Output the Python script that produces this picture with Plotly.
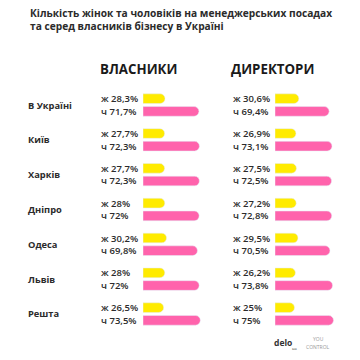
import plotly.graph_objects as go

cities = ["В Україні", "Київ", "Харків", "Дніпро", "Одеса", "Львів", "Решта"]
owners_women = [28.3, 27.7, 27.7, 28, 30.2, 28, 26.5]
owners_men = [71.7, 72.3, 72.3, 72, 69.8, 72, 73.5]
directors_women = [30.6, 26.9, 27.5, 27.2, 29.5, 26.2, 25]
directors_men = [69.4, 73.1, 72.5, 72.8, 70.5, 73.8, 75]

title_lines = ["Кількість жінок та чоловіків на менеджерських посадах",
               "та серед власників бізнесу в Україні"]
headers = ["ВЛАСНИКИ", "ДИРЕКТОРИ"]
women_prefix = "ж"
men_prefix = "ч"

YELLOW = "#FFEB00"
PINK = "#FF63AC"
TEXT = "#2b2b2b"
FONT = "Open Sans"


def fmt(v):
    return f"{v:g}".replace(".", ",") + "%"


fig = go.Figure()
panels = [("x", owners_women, owners_men), ("x2", directors_women, directors_men)]
for xa, w, m in panels:
    fig.add_trace(go.Bar(y=cities, x=w, orientation="h", xaxis=xa, yaxis="y",
                         marker=dict(color=YELLOW, cornerradius="50%"),
                         hoverinfo="skip", showlegend=False))
    fig.add_trace(go.Bar(y=cities, x=m, orientation="h", xaxis=xa, yaxis="y",
                         marker=dict(color=PINK, cornerradius="50%"),
                         hoverinfo="skip", showlegend=False))

ann = []
# title
ann.append(dict(text="<br>".join(title_lines), x=28 / 360, y=1 - 4 / 360,
                xref="paper", yref="paper", xanchor="left", yanchor="top",
                align="left", showarrow=False,
                font=dict(family=FONT, size=10.2, color=TEXT, weight="bold")))
# headers
for hx, h in zip([139, 272], headers):
    ann.append(dict(text=h, x=hx / 360, y=1 - 69 / 360, xref="paper", yref="paper",
                    xanchor="center", yanchor="middle", showarrow=False,
                    font=dict(family=FONT, size=13.3, color="#1a1a1a", weight="bold")))
# row labels
for c in cities:
    ann.append(dict(text=c, x=26 / 360, y=c, xref="paper", yref="y",
                    xanchor="left", yanchor="middle", showarrow=False,
                    font=dict(family=FONT, size=9.3, color=TEXT, weight="bold")))
# value labels
for lx, w, m in [(99, owners_women, owners_men), (231, directors_women, directors_men)]:
    for c, wv, mv in zip(cities, w, m):
        ann.append(dict(text=f"{women_prefix} {fmt(wv)}", x=lx / 360, y=c,
                        xref="paper", yref="y", xanchor="left", yanchor="middle",
                        yshift=6.3, showarrow=False,
                        font=dict(family=FONT, size=9.5, color=TEXT, weight=600)))
        ann.append(dict(text=f"{men_prefix} {fmt(mv)}", x=lx / 360, y=c,
                        xref="paper", yref="y", xanchor="left", yanchor="middle",
                        yshift=-6.3, showarrow=False,
                        font=dict(family=FONT, size=9.5, color=TEXT, weight=600)))
# logos
ann.append(dict(text="delo", x=273 / 360, y=1 - 342 / 360,
                xref="paper", yref="paper", xanchor="left", yanchor="middle",
                showarrow=False, borderpad=0,
                font=dict(family=FONT, size=8.5, color="#333", weight="bold")))
ann.append(dict(text="ua", x=291 / 360, y=1 - 348 / 360,
                xref="paper", yref="paper", xanchor="left", yanchor="middle",
                showarrow=False, borderpad=0, font=dict(family=FONT, size=4, color="#333")))
ann.append(dict(text="YOU", x=318 / 360, y=1 - 338.5 / 360,
                xref="paper", yref="paper", xanchor="center", yanchor="middle",
                showarrow=False, borderpad=0, font=dict(family=FONT, size=5, color="#999")))
ann.append(dict(text="CONTROL", x=318 / 360, y=1 - 346.5 / 360,
                xref="paper", yref="paper", xanchor="center", yanchor="middle",
                showarrow=False, borderpad=0, font=dict(family=FONT, size=5, color="#999")))

ax = dict(showgrid=False, zeroline=False, showticklabels=False, showline=False,
          range=[0, 100], fixedrange=True)
fig.update_layout(
    width=360, height=360,
    margin=dict(l=0, r=0, t=0, b=0),
    paper_bgcolor="white", plot_bgcolor="white",
    barmode="group", bargap=0.27, bargroupgap=0.24,
    xaxis=dict(domain=[143 / 360, 221 / 360], anchor="y", **ax),
    xaxis2=dict(domain=[275 / 360, 353 / 360], anchor="y", **ax),
    yaxis=dict(domain=[1 - 331.4 / 360, 1 - 87.6 / 360], autorange="reversed",
               showgrid=False, zeroline=False, showticklabels=False, showline=False,
               fixedrange=True),
    annotations=ann,
)
fig.write_html("out.html", config={"displayModeBar": False},
               post_script="document.body.style.margin='0';document.body.style.padding='0';")
